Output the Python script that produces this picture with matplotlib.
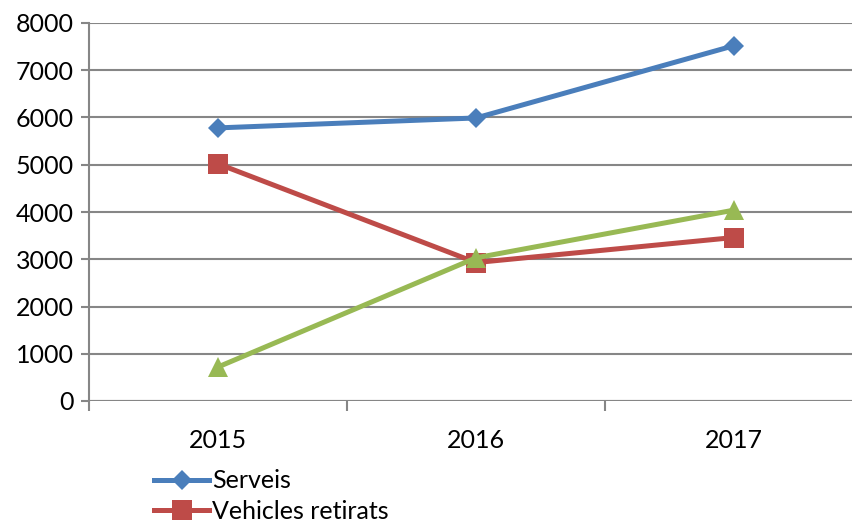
import numpy as np
import matplotlib.pyplot as plt

years = ['2015', '2016', '2017']
serveis = [5780, 5990, 7520]
vehicles_retirats = [5020, 2930, 3460]
vehicles_dipositats = [720, 3030, 4040]
yticks = [0, 1000, 2000, 3000, 4000, 5000, 6000, 7000, 8000]

plt.rcParams['font.family'] = ['Lato', 'DejaVu Sans']

fig = plt.figure(figsize=(8.53, 5.21), dpi=100)
ax = fig.add_axes([89 / 853, 120 / 521, 774 / 853, 378 / 521])

x = np.arange(len(years))
grid_col = '#868686'

ax.plot(x, serveis, color='#4A7EBB', lw=3.6, marker='D', ms=10.5, mew=0, label='Serveis', zorder=3)
ax.plot(x, vehicles_retirats, color='#BE4B48', lw=3.6, marker='s', ms=14, mew=0,
        label='Vehicles retirats', zorder=3)
ax.plot(x, vehicles_dipositats, color='#98B954', lw=3.6, marker='^', ms=14, mew=0,
        label='Vehicles dipositats', zorder=3)

ax.set_xlim(-0.5, 2.5)
ax.set_ylim(0, 8000)
ax.set_yticks(yticks)
ax.set_xticks(x)
ax.set_xticklabels(years)
ax.set_xticks([-0.5, 0.5, 1.5, 2.5], minor=True)

ax.yaxis.grid(True, color=grid_col, lw=1.5)
ax.set_axisbelow(True)
for side in ['top', 'right', 'bottom']:
    ax.spines[side].set_visible(False)
ax.spines['left'].set_color(grid_col)
ax.spines['left'].set_linewidth(1.5)
ax.axhline(0, color=grid_col, lw=1.5, zorder=1)

ax.tick_params(axis='y', length=6, width=1.5, color=grid_col, labelsize=18, pad=5)
ax.tick_params(axis='x', which='major', length=0, labelsize=18, pad=20)
ax.tick_params(axis='x', which='minor', length=7, width=1.5, color=grid_col)

# legend sits under the axes; the last row falls below the figure edge
leg = fig.legend(loc='upper left', bbox_to_anchor=(142 / 853, 1 - 457 / 521),
                 frameon=False, fontsize=18, handlelength=2.2, handletextpad=0.1,
                 labelspacing=0.3, borderpad=0)

fig.savefig('out.png', dpi=100)
